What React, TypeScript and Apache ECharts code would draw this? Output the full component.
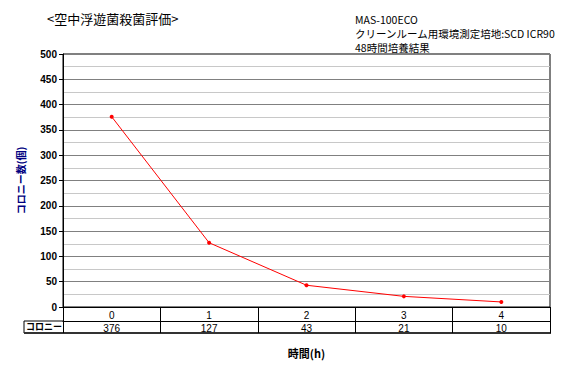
import React, { useEffect, useRef } from "react";
import * as echarts from "echarts";

const categories = ["0", "1", "2", "3", "4"];
const colonies = [376, 127, 43, 21, 10];
const titleText = "<空中浮遊菌殺菌評価>";
const infoLines = ["MAS-100ECO", "クリーンルーム用環境測定培地:SCD ICR90", "48時間培養結果"];
const rowLabel = "コロニー";
const yName = "コロニー数(個)";
const xName = "時間(h)";

const JP = '"Noto Sans CJK JP", "Liberation Sans", sans-serif';
const LAT = '"Liberation Sans", Arial, sans-serif';

export default function App() {
  const ref = useRef<HTMLDivElement>(null);
  useEffect(() => {
    document.body.style.margin = "0";
    const chart = echarts.init(ref.current!, null, { renderer: "svg" });
    const gridL = 63, gridR = 30, gridT = 54, gridB = 62;
    chart.setOption({
      animation: false,
      backgroundColor: "#fff",
      grid: { left: gridL, right: gridR, top: gridT, bottom: gridB, show: true, borderColor: "#000", borderWidth: 1, backgroundColor: "transparent" },
      xAxis: [
        {
          type: "category",
          data: categories,
          position: "bottom",
          boundaryGap: true,
          axisLine: { show: true, lineStyle: { color: "#000", width: 1 } },
          axisTick: { show: true, length: 26, interval: 0, alignWithLabel: false, lineStyle: { color: "#000" } },
          axisLabel: { margin: 3, fontSize: 10, fontFamily: LAT, color: "#000", interval: 0 },
          splitLine: { show: false },
          name: xName,
          nameLocation: "middle",
          nameGap: 40,
          nameTextStyle: { fontSize: 11, fontWeight: "bold", fontFamily: JP, color: "#000" },
        },
        {
          type: "category",
          data: colonies.map(String),
          position: "bottom",
          offset: 14,
          boundaryGap: true,
          axisLine: { show: true, lineStyle: { color: "#000", width: 1 } },
          axisTick: { show: false },
          axisLabel: { margin: 2, fontSize: 10, fontFamily: LAT, color: "#000", interval: 0 },
          splitLine: { show: false },
        },
      ],
      yAxis: {
        type: "value",
        min: 0,
        max: 500,
        interval: 50,
        axisLine: { show: true, lineStyle: { color: "#000", width: 1 } },
        axisTick: { show: true, length: 4, inside: false, lineStyle: { color: "#000" } },
        axisLabel: { fontSize: 10, fontWeight: "bold", fontFamily: LAT, color: "#000", margin: 6 },
        splitLine: { show: true, lineStyle: { color: "#808080", width: 1 } },
        minorTick: { show: false, splitNumber: 2 },
        minorSplitLine: { show: true, lineStyle: { color: "#c8c8c8", width: 1 } },
        name: yName,
        nameLocation: "middle",
        nameRotate: 90,
        nameGap: 38,
        nameTextStyle: { fontSize: 10, fontWeight: "bold", fontFamily: JP, color: "#000080" },
      },
      series: [
        {
          type: "line",
          data: colonies,
          xAxisIndex: 0,
          symbol: "circle",
          symbolSize: 4,
          lineStyle: { color: "#ff0000", width: 1 },
          itemStyle: { color: "#ff0000" },
        },
      ],
      graphic: [
        { type: "text", left: 47, top: 12, style: { text: titleText, font: `13px ${JP}`, fill: "#000" } },
        { type: "text", left: 355, top: 12, style: { text: infoLines.join("\n"), font: `10.5px ${JP}`, lineHeight: 14, fill: "#000" } },
        { type: "line", shape: { x1: 24, y1: 321, x2: 63, y2: 321 }, style: { stroke: "#000", lineWidth: 1 } },
        { type: "line", shape: { x1: 24, y1: 321, x2: 24, y2: 333 }, style: { stroke: "#000", lineWidth: 1 } },
        { type: "line", shape: { x1: 24, y1: 333, x2: 551, y2: 333 }, style: { stroke: "#333", lineWidth: 2 } },
        { type: "text", left: 26, top: 322, style: { text: rowLabel, font: `bold 9px ${JP}`, fill: "#000" } },
      ],
    });
    return () => chart.dispose();
  }, []);
  return <div ref={ref} style={{ width: 580, height: 369 }} />;
}
